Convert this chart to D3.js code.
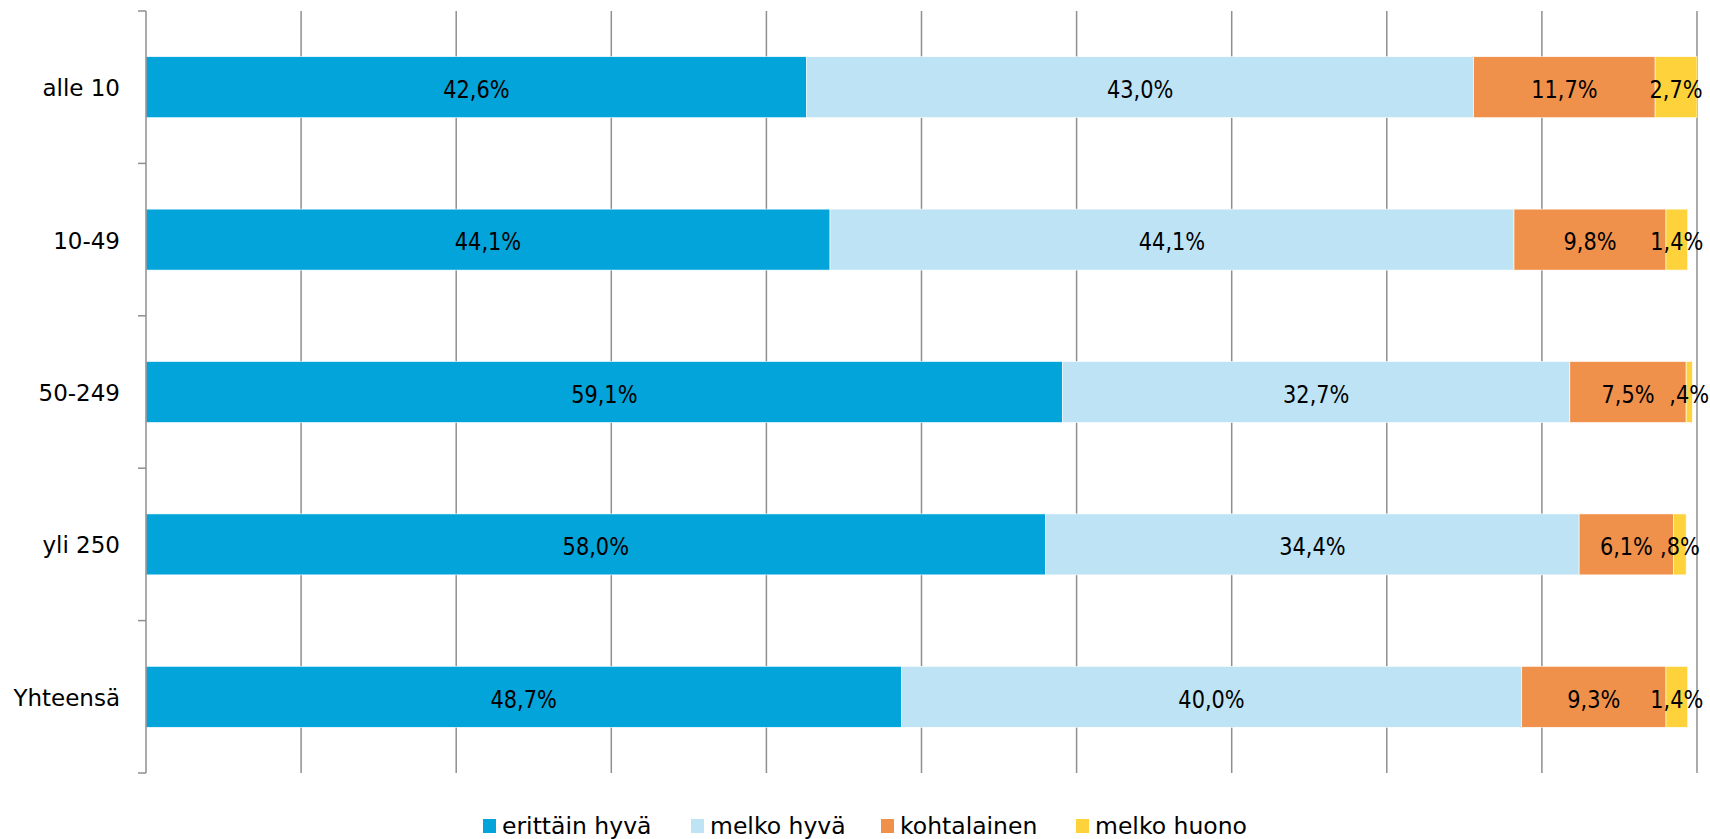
<!DOCTYPE html>
<html>
<head>
<meta charset="utf-8">
<script src="https://cdn.jsdelivr.net/npm/d3@7"></script>
<style>
    html, body { margin: 0; padding: 0; background: #fff; }
    #chart { width: 1710px; height: 839px; }
    text { font-family: "DejaVu Sans", sans-serif; fill: #000; }
</style>
</head>
<body>
<div id="chart"></div>
<script>
// Categories (top to bottom) and series
const categories = ["alle 10", "10-49", "50-249", "yli 250", "Yhteensä"];
const seriesNames = ["erittäin hyvä", "melko hyvä", "kohtalainen", "melko huono"];
const seriesColors = ["#02a4da", "#bee3f5", "#f0914b", "#fed23a"];

// Percent values per series, in the order of categories
const erittainHyva = [42.6, 44.1, 59.1, 58.0, 48.7];
const melkoHyva = [43.0, 44.1, 32.7, 34.4, 40.0];
const kohtalainen = [11.7, 9.8, 7.5, 6.1, 9.3];
const melkoHuono = [2.7, 1.4, 0.4, 0.8, 1.4];

const xTicks = [0, 10, 20, 30, 40, 50, 60, 70, 80, 90, 100];

// SPSS style labels: leading zero dropped, comma as decimal mark
function fmt(v) {
    let s = v.toFixed(1).replace(".", ",");
    if (s.startsWith("0")) s = s.slice(1);
    return s + "%";
}

const rows = categories.map((c, i) => ({
    category: c,
    values: [erittainHyva[i], melkoHyva[i], kohtalainen[i], melkoHuono[i]]
}));

const margin = {top: 11, right: 13, bottom: 66, left: 146};
const width = 1710 - margin.left - margin.right;
const height = 839 - margin.top - margin.bottom;

const root = d3.select("#chart").append("svg")
    .attr("width", 1710)
    .attr("height", 839);

const svg = root.append("g")
    .attr("transform", `translate(${margin.left},${margin.top})`);

const x = d3.scaleLinear().domain([0, 100]).range([0, width]);
const y = d3.scaleBand().domain(categories).range([0, height]).paddingInner(0.6).paddingOuter(0.3);

// Vertical gridlines
svg.append("g")
    .selectAll("line")
    .data(xTicks.slice(1))
    .join("line")
    .attr("x1", d => x(d))
    .attr("x2", d => x(d))
    .attr("y1", 0)
    .attr("y2", height)
    .attr("stroke", "#8f8f8f")
    .attr("stroke-width", 1.5);

// Stacked bars
const stackData = d3.stack().keys([0, 1, 2, 3]).value((d, k) => d.values[k])(rows);

const layers = svg.append("g")
    .selectAll("g")
    .data(stackData)
    .join("g")
    .attr("fill", (d, i) => seriesColors[i]);

layers.selectAll("rect")
    .data(d => d)
    .join("rect")
    .attr("x", d => x(d[0]))
    .attr("y", d => y(d.data.category))
    .attr("width", d => x(d[1]) - x(d[0]))
    .attr("height", y.bandwidth())
    .attr("stroke", "#ffffff")
    .attr("stroke-width", 0.6);

// value labels, font squeezed to look like the narrow original
layers.selectAll("text")
    .data(d => d)
    .join("text")
    .attr("transform", d => `translate(${(x(d[0]) + x(d[1])) / 2},${y(d.data.category) + y.bandwidth() / 2}) scale(0.82,1)`)
    .attr("text-anchor", "middle")
    .attr("dy", "0.42em")
    .style("font-size", "25.5px")
    .text(d => fmt(d[1] - d[0]));

// Y axis with ticks between categories
const yAxis = svg.append("g");
yAxis.append("line")
    .attr("x1", 0).attr("x2", 0)
    .attr("y1", 0).attr("y2", height)
    .attr("stroke", "#8f8f8f")
    .attr("stroke-width", 1.5);

const bounds = d3.range(categories.length + 1).map(i => i * height / categories.length);
yAxis.selectAll(".tick")
    .data(bounds)
    .join("line")
    .attr("class", "tick")
    .attr("x1", -8).attr("x2", 0)
    .attr("y1", d => d).attr("y2", d => d)
    .attr("stroke", "#8f8f8f")
    .attr("stroke-width", 1.5);

yAxis.selectAll("text")
    .data(categories)
    .join("text")
    .attr("x", -26)
    .attr("y", d => y(d) + y.bandwidth() / 2)
    .attr("dy", "0.39em")
    .attr("text-anchor", "end")
    .style("font-size", "23px")
    .text(d => d);

// Legend
const legendX = [483, 691, 881, 1076];
const legend = root.append("g")
    .selectAll("g")
    .data(seriesNames)
    .join("g")
    .attr("transform", (d, i) => `translate(${legendX[i]},0)`);

legend.append("rect")
    .attr("y", 819)
    .attr("width", 13)
    .attr("height", 14)
    .attr("fill", (d, i) => seriesColors[i]);

legend.append("text")
    .attr("x", 19)
    .attr("y", 834)
    .style("font-size", "23.5px")
    .text(d => d);
</script>
</body>
</html>
